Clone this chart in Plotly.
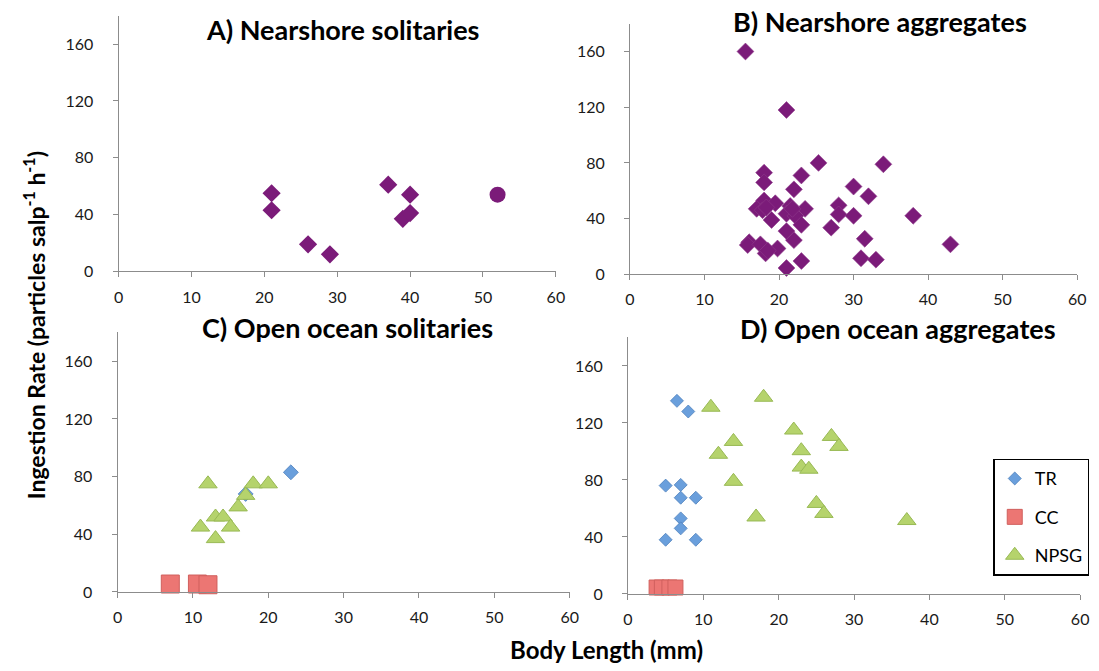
import plotly.graph_objects as go

# ---- data: body length (mm) vs ingestion rate (particles salp^-1 h^-1) ----
# A) Nearshore solitaries
a_len = [21, 21, 26, 29, 37, 40, 39, 40]
a_rate = [55, 43, 19, 12, 61, 54, 37, 41]
a_extra_len = [52]
a_extra_rate = [54]

# B) Nearshore aggregates
b_len = [15.5, 21, 25.3, 34, 18, 18, 23, 22, 30, 32, 18, 19.5, 17, 17.8, 21.5,
         23.5, 28, 28, 30, 38, 21, 22.2, 19, 23, 27, 21, 22, 31.5, 16, 15.8,
         17.5, 18.2, 19.8, 18.5, 23, 21, 31, 33, 43, 18.3, 21.8]
b_rate = [160, 118, 80, 79, 73, 66, 71, 61, 63, 56, 53, 51, 47, 46, 49,
          47, 49.5, 43, 42, 42, 43.5, 42, 39, 35.5, 33.5, 31, 24.5, 25.5, 23, 21,
          21.5, 15, 18.5, 17, 9.5, 4.5, 11.5, 10.5, 21.5, 48, 47]

# C) Open ocean solitaries
c_tr_len = [23, 17]
c_tr_rate = [83, 68]
c_cc_len = [7, 10.6, 12]
c_cc_rate = [5.5, 5.5, 5]
c_npsg_len = [12, 18, 20, 17, 16, 13, 14, 11, 15, 13]
c_npsg_rate = [75, 75, 75, 67, 59, 52, 52, 45, 45, 37]

# D) Open ocean aggregates
d_tr_len = [6.5, 8, 5, 7, 7, 9, 7, 7, 5, 9]
d_tr_rate = [135.5, 128, 76, 76.5, 67.5, 67.5, 53, 46, 38, 38]
d_cc_len = [3.8, 4.5, 5.5, 6.3]
d_cc_rate = [4.5, 4.5, 4.5, 4.5]
d_npsg_len = [11, 18, 22, 27, 28, 14, 12, 23, 23, 24, 14, 25, 26, 17, 37]
d_npsg_rate = [131, 138, 115, 110.5, 103.5, 107, 98, 100.5, 89, 87.5, 79, 63.5, 56.5, 54, 51.5]

x_ticks = [0, 10, 20, 30, 40, 50, 60]
y_ticks = [0, 40, 80, 120, 160]

panel_titles = ["A) Nearshore solitaries", "B) Nearshore aggregates",
                "C) Open ocean solitaries", "D) Open ocean aggregates"]
series_names = ["TR", "CC", "NPSG"]

# ---- styling ----
W, H = 1099, 671
FONT = "Lato"
PURPLE = "#7B1B79"
TR_FILL, TR_LINE = "#6A9FDC", "#4F81BD"
CC_FILL, CC_LINE = "#EC7673", "#D0605D"
NP_FILL, NP_LINE = "#B5D36C", "#98B954"


def px(x):
    return x / W


def py(y):
    return 1 - y / H


# plot-area rectangles in pixels: (left, top, right, bottom)
boxes = {
    "": (115, 16, 558, 275),
    "2": (633, 24, 1086, 278),
    "3": (114, 337, 572, 600),
    "4": (631, 342, 1089, 602),
}

fig = go.Figure()


def add(x, y, ax, symbol, size, fill, line, name=None, show=False, lw=0):
    fig.add_trace(go.Scatter(
        x=x, y=y, mode="markers", xaxis="x" + ax, yaxis="y" + ax,
        name=name, showlegend=show, legendgroup=name, cliponaxis=False,
        marker=dict(symbol=symbol, size=size, color=fill,
                    line=dict(color=line, width=lw)),
        hoverinfo="x+y",
    ))


# A
add(a_len, a_rate, "", "diamond", 14, PURPLE, PURPLE)
add(a_extra_len, a_extra_rate, "", "circle", 16, PURPLE, PURPLE)
# B
add(b_len, b_rate, "2", "diamond", 13, PURPLE, "#8E3A8C", lw=0.6)
# C
add(c_tr_len, c_tr_rate, "3", "diamond", 11.5, TR_FILL, TR_LINE, lw=0.8)
add(c_cc_len, c_cc_rate, "3", "square", 18, CC_FILL, CC_LINE, lw=1)
add(c_npsg_len, c_npsg_rate, "3", "triangle-up", 16, NP_FILL, NP_LINE, lw=1)
# D (carries the legend)
add(d_tr_len, d_tr_rate, "4", "diamond", 10, TR_FILL, TR_LINE, series_names[0], True, 0.8)
add(d_cc_len, d_cc_rate, "4", "square", 15, CC_FILL, CC_LINE, series_names[1], True, 1)
add(d_npsg_len, d_npsg_rate, "4", "triangle-up", 16, NP_FILL, NP_LINE, series_names[2], True, 1)

axis_common = dict(
    showgrid=False, zeroline=False, showline=True, linecolor="#8C8C8C",
    linewidth=1, ticks="outside", tickcolor="#8C8C8C", ticklen=5,
    tickfont=dict(family=FONT, size=16, color="#1A1A1A"), fixedrange=True,
)

layout = dict(
    width=W, height=H, margin=dict(l=0, r=0, t=0, b=0), autosize=False,
    paper_bgcolor="white", plot_bgcolor="white",
    font=dict(family=FONT, color="#000000"),
    showlegend=True,
    legend=dict(
        x=px(1001), y=py(465), xanchor="left", yanchor="top",
        bordercolor="#000000", borderwidth=1.5, bgcolor="white",
        font=dict(family=FONT, size=18, color="#000000"),
        tracegroupgap=12, itemwidth=30,
    ),
)

for key, (l, t, r, b) in boxes.items():
    layout["xaxis" + key] = dict(
        axis_common, domain=[px(l), px(r)], range=[0, 60],
        tickvals=x_ticks, anchor="y" + key, ticklabelstandoff=6,
    )
    layout["yaxis" + key] = dict(
        axis_common, domain=[py(b), py(t)], range=[0, 180],
        tickvals=y_ticks, anchor="x" + key, ticklabelstandoff=16,
    )

fig.update_layout(**layout)

# panel titles (centre x, centre y in pixels)
title_pos = [(342, 30), (886, 22), (347, 332), (905, 333)]
for text, (cx, cy) in zip(panel_titles, title_pos):
    fig.add_annotation(
        text="<b>%s</b>" % text, x=px(cx), y=py(cy), xref="paper", yref="paper",
        xanchor="center", yanchor="middle", showarrow=False,
        font=dict(family=FONT, size=27, color="#000000"),
    )

# shared axis titles
fig.add_annotation(
    text="<b>Ingestion Rate (particles salp<sup>-1</sup> h<sup>-1</sup>)</b>",
    x=px(30), y=py(330), xref="paper", yref="paper", textangle=-90,
    xanchor="center", yanchor="middle", showarrow=False,
    font=dict(family=FONT, size=23, color="#000000"),
)
fig.add_annotation(
    text="<b>Body Length (mm)</b>", x=px(609), y=py(658), xref="paper", yref="paper",
    xanchor="center", yanchor="middle", showarrow=False,
    font=dict(family=FONT, size=24, color="#000000"),
)

fig.write_html("out.html")
